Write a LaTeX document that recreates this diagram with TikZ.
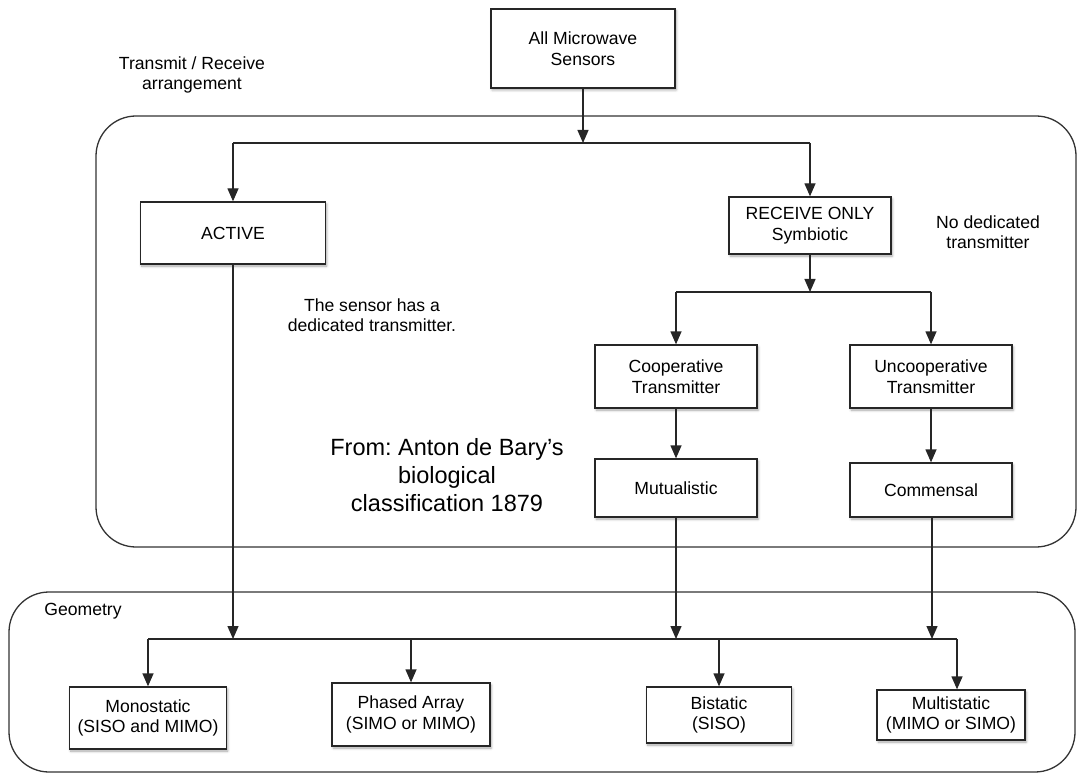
\documentclass[tikz,border=0pt]{standalone}
\usepackage{fontspec}
\setmainfont{Liberation Sans}
\frenchspacing
\usetikzlibrary{arrows.meta,shadows.blur}
\begin{document}
\begin{tikzpicture}[x=1pt,y=-1pt,
  box/.style={draw=black!85, line width=1.3pt, fill=white, align=center,
    font=\fontsize{17.6}{20.5}\selectfont, inner sep=0pt,
    blur shadow={shadow xshift=1.2pt, shadow yshift=-2pt,
      shadow blur radius=2.5pt, shadow opacity=35}},
  link/.style={line width=1.3pt, draw=black!85},
  arr/.style={link, -{Triangle[length=13pt,width=11pt]}},
  note/.style={align=center, font=\fontsize{17.6}{20.5}\selectfont},
  frame/.style={draw=black!80, line width=1.3pt, rounded corners=40pt}
]
\useasboundingbox (0,0) rectangle (1078,775);

% group frames
\draw[frame] (96,116) rectangle (1076,547);
\draw[frame] (9,592) rectangle (1075,772);

% free labels
\node[note] (trx) at (192,75) {Transmit / Receive\\arrangement};
\node[note] (actnote) at (372,315) {The sensor has a\\dedicated transmitter.};
\node[note] (rxnote) at (988,232) {No dedicated\\transmitter};
\node[note, font=\fontsize{23.5}{28}\selectfont] (bary) at (447,475)
  {From: Anton de Bary’s\\biological\\classification 1879};
\node[note] (geo) at (83,611) {Geometry};

% boxes
\node[box, minimum width=184pt, minimum height=79pt] (all) at (583,48.5) {All Microwave\\Sensors};
\node[box, minimum width=185pt, minimum height=62pt] (active) at (233,233) {ACTIVE};
\node[box, minimum width=162pt, minimum height=57pt] (recv) at (810,225.5) {RECEIVE ONLY\\Symbiotic};
\node[box, minimum width=162pt, minimum height=63pt] (coop) at (676,376.5) {Cooperative\\Transmitter};
\node[box, minimum width=162pt, minimum height=63pt] (uncoop) at (931,376.5) {Uncooperative\\Transmitter};
\node[box, minimum width=162pt, minimum height=58pt] (mutual) at (676,488) {Mutualistic};
\node[box, minimum width=162pt, minimum height=54pt] (comm) at (931,490) {Commensal};
\node[box, minimum width=157pt, minimum height=62pt] (mono) at (148,718) {Monostatic\\(SISO and MIMO)};
\node[box, minimum width=158pt, minimum height=63pt] (phased) at (411,714.5) {Phased Array\\(SIMO or MIMO)};
\node[box, minimum width=145pt, minimum height=56pt] (bi) at (719,715) {Bistatic\\(SISO)};
\node[box, minimum width=148pt, minimum height=50pt] (multi) at (951,715) {Multistatic\\(MIMO or SIMO)};

% junction points
\coordinate (j1) at (583,143);
\coordinate (j2) at (810,292);
\coordinate (gA) at (233,639);
\coordinate (gB) at (676,639);
\coordinate (gC) at (932,639);
\coordinate (gL) at (148,639);
\coordinate (gP) at (411,639);
\coordinate (gQ) at (719,639);
\coordinate (gR) at (957,639);

% top split
\draw[arr] (all.south) -- (j1);
\draw[link] (active.north |- j1) -- (recv.north |- j1);
\draw[arr] (active.north |- j1) -- (active.north);
\draw[arr] (recv.north |- j1) -- (recv.north);

% receive-only split
\draw[arr] (recv.south) -- (j2);
\draw[link] (coop.north |- j2) -- (uncoop.north |- j2);
\draw[arr] (coop.north |- j2) -- (coop.north);
\draw[arr] (uncoop.north |- j2) -- (uncoop.north);
\draw[arr] (coop.south) -- (mutual.north);
\draw[arr] (uncoop.south) -- (comm.north);

% into the geometry bus
\draw[arr] (active.south) -- (gA);
\draw[arr] (mutual.south) -- (gB);
\draw[arr] (comm.south -| gC) -- (gC);
\draw[link] (gL) -- (gR);
\draw[arr] (gL) -- (mono.north);
\draw[arr] (gP) -- (phased.north);
\draw[arr] (gQ) -- (bi.north);
\draw[arr] (gR) -- (gR |- multi.north);
\end{tikzpicture}
\end{document}
